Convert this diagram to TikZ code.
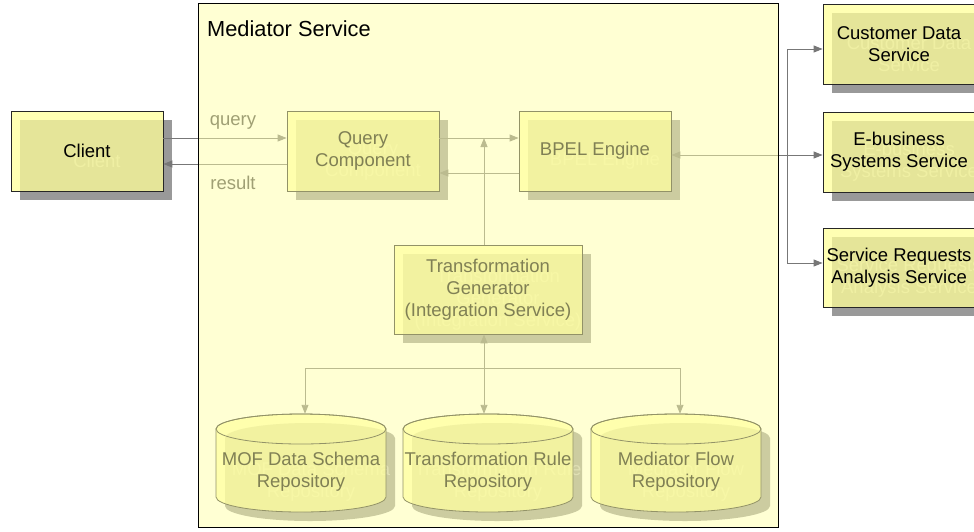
\documentclass[tikz,border=0pt]{standalone}
\usepackage{fontspec}
\setmainfont{Liberation Sans}
\usetikzlibrary{arrows.meta}

\definecolor{boxfill}{HTML}{FFFF99}
\definecolor{shadowgray}{HTML}{999999}
\definecolor{ghostgray}{HTML}{C2C2C2}
\definecolor{linegray}{HTML}{777777}
\definecolor{veil}{HTML}{FFFFA8}
\definecolor{labelgray}{HTML}{404040}

\tikzset{
  boxfont/.style={font=\fontsize{18.5}{22}\selectfont},
  ybox/.style={boxfont, draw=black!85, line width=0.8pt, fill=boxfill,
    fill opacity=0.75, text opacity=1, align=center, inner sep=0pt},
  ghost/.style={boxfont, text=ghostgray, align=center, inner sep=0pt},
  cylface/.style={draw=black!85, line width=0.8pt, fill=boxfill, fill opacity=0.75},
  repotext/.style={boxfont, align=center, inner sep=0pt},
  conn/.style={draw=linegray, line width=0.9pt},
  tip/.style={-{Triangle[length=9pt,width=7pt]}},
  bothtips/.style={{Triangle[length=9pt,width=7pt]}-{Triangle[length=9pt,width=7pt]}},
  flowlabel/.style={boxfont, text=labelgray, inner sep=0pt},
}

% box with a drop shadow: name, centre x, centre y, width, height, text
\newcommand\yellowbox[6]{%
  \fill[shadowgray] ({#2-#4/2+9},{#3-#5/2+9}) rectangle ({#2+#4/2+9},{#3+#5/2+9});
  \node[ghost] at ({#2+10},{#3+10}) {#6};
  \node[ybox, minimum width=#4pt, minimum height=#5pt] (#1) at (#2,#3) {#6};
}

% database cylinder with a drop shadow: name, left, right, top, bottom, text
\newcommand\repo[6]{%
  \fill[shadowgray, shift={(9,9)}] (#2,#4+15) -- (#2,#5-15)
    arc[start angle=180, end angle=0, x radius={(#3-#2)/2}, y radius=15]
    -- (#3,#4+15)
    arc[start angle=0, end angle=-180, x radius={(#3-#2)/2}, y radius=15] -- cycle;
  \node[ghost] at ({(#2+#3)/2+10},{(#4+#5)/2+19}) {#6};
  \path[cylface] (#2,#4+15) -- (#2,#5-15)
    arc[start angle=180, end angle=0, x radius={(#3-#2)/2}, y radius=15]
    -- (#3,#4+15)
    arc[start angle=0, end angle=-180, x radius={(#3-#2)/2}, y radius=15] -- cycle;
  \draw[draw=black!85, line width=0.8pt] ({(#2+#3)/2},#4+15)
    ellipse [x radius={(#3-#2)/2}, y radius=15];
  \node[inner sep=0pt, minimum width={#3-#2}, minimum height={#5-#4}] (#1)
    at ({(#2+#3)/2},{(#4+#5)/2}) {};
  \node[repotext] at ({(#2+#3)/2},{(#4+#5)/2+9}) {#6};
}

\begin{document}
\begin{tikzpicture}[x=1pt,y=-1pt]
\useasboundingbox (0,0) rectangle (974,531);
\clip (0,0) rectangle (974,531);

% helper rows and columns for the connectors
\coordinate (yq) at (0,138);
\coordinate (yr) at (0,164);
\coordinate (yb) at (0,173);
\coordinate (ye) at (0,155);
\coordinate (yc) at (0,49);
\coordinate (ys) at (0,263);
\coordinate (ybus) at (0,368);
\coordinate (vx) at (484,0);
\coordinate (bx) at (787,0);
\coordinate (busL) at (305,368);
\coordinate (busR) at (680,368);

% client and external services
\yellowbox{client}{87}{151}{152}{80}{Client}
\yellowbox{cust}{899}{44}{152}{80}{Customer Data\\Service}
\yellowbox{ebiz}{899}{152}{152}{80}{E-business\\Systems Service}
\yellowbox{sra}{899}{267.5}{152}{79}{Service Requests\\Analysis Service}

% components of the mediator
\yellowbox{query}{363}{151}{152}{80}{Query\\Component}
\yellowbox{bpel}{595}{151}{152}{80}{BPEL Engine}
\yellowbox{tgen}{488}{289.5}{188}{89}{Transformation\\Generator\\(Integration Service)}
\repo{mof}{216}{386}{414}{512}{MOF Data Schema\\Repository}
\repo{trule}{403}{573}{414}{512}{Transformation Rule\\Repository}
\repo{mflow}{591}{761}{414}{512}{Mediator Flow\\Repository}

% request / response between client and query component
\draw[conn,tip] (client.east |- yq) -- (query.west |- yq);
\draw[conn,tip] (query.west |- yr) -- (client.east |- yr);
\node[flowlabel] (qlabel) at (233,122) {query};
\node[flowlabel] (rlabel) at (233,183) {result};

% query component and BPEL engine
\draw[conn,tip] (query.east |- yq) -- (bpel.west |- yq);
\draw[conn,tip] (bpel.west |- yb) -- (query.east |- yb);
\draw[conn,tip] (tgen.north -| vx) -- (vx |- yq);

% repositories feeding the transformation generator
\draw[conn,tip] (vx |- ybus) -- (tgen.south -| vx);
\draw[conn] (busL) -- (busR);
\draw[conn,tip] (busL) -- (busL |- mof.north);
\draw[conn,tip] (vx |- ybus) -- (vx |- trule.north);
\draw[conn,tip] (busR) -- (busR |- mflow.north);

% BPEL engine and the external services
\draw[conn,bothtips] (bpel.east |- ye) -- (ebiz.west |- ye);
\draw[conn] (bx |- yc) -- (bx |- ys);
\draw[conn,tip] (bx |- yc) -- (cust.west |- yc);
\draw[conn,tip] (bx |- ys) -- (sra.west |- ys);

% the mediator service container
\node[draw=black, line width=0.8pt, fill=veil, fill opacity=0.5, inner sep=0pt,
  minimum width=580pt, minimum height=524pt] (mediator) at (488,265) {};
\node[anchor=west, inner sep=0pt, font=\fontsize{21.8}{24}\selectfont] (medtitle)
  at (207,29) {Mediator Service};
\end{tikzpicture}
\end{document}
